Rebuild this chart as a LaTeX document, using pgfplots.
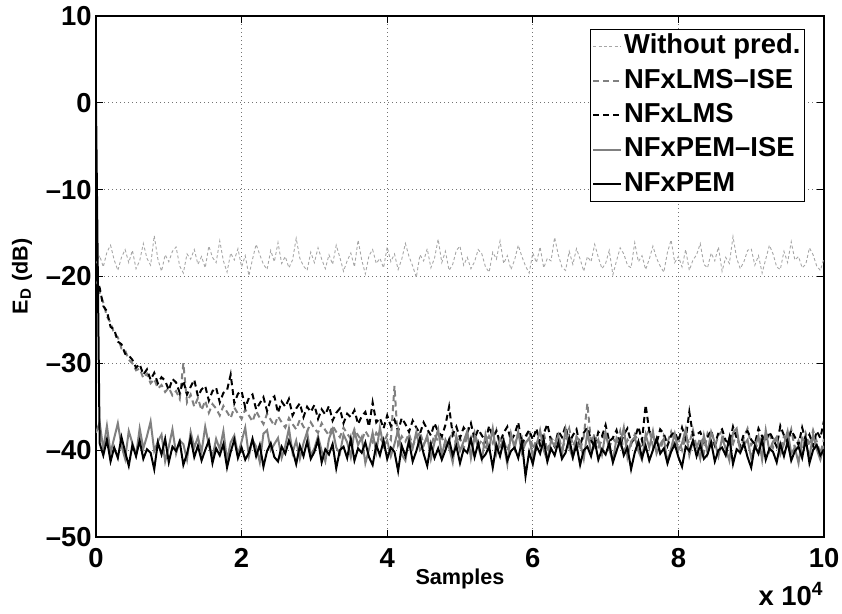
\documentclass[border=0pt]{standalone}
\usepackage{pgfplots}
\pgfplotsset{compat=1.18}
\usepackage{pgfplotstable}
\usepackage{fontspec}
\setmainfont{Liberation Sans}

\pgfplotstableread{
x A B C D E
0.00 -18.5 -20.2 -20.0 -38.0 0.0
0.05 -17.6 -21.8 -21.3 -36.8 -39.2
0.10 -18.9 -23.0 -23.4 -39.9 -40.6
0.15 -17.2 -24.6 -24.0 -37.2 -38.8
0.20 -16.4 -25.3 -25.8 -40.3 -41.3
0.25 -18.1 -26.6 -26.1 -38.6 -39.7
0.30 -19.3 -27.0 -27.5 -36.9 -40.9
0.35 -17.8 -28.3 -27.8 -39.5 -38.5
0.40 -16.9 -28.5 -28.9 -41.0 -40.2
0.45 -18.4 -29.6 -29.1 -37.8 -41.8
0.50 -17.0 -30.0 -29.6 -39.2 -39.4
0.55 -19.1 -30.8 -30.5 -40.6 -40.7
0.60 -18.2 -30.6 -30.1 -37.5 -38.9
0.65 -16.2 -31.7 -31.3 -39.8 -41.0
0.70 -17.9 -31.2 -30.7 -38.4 -39.9
0.75 -18.7 -32.3 -31.9 -36.7 -40.3
0.80 -15.3 -31.8 -31.1 -40.1 -42.2
0.85 -18.0 -32.9 -32.3 -39.0 -39.1
0.90 -19.4 -32.5 -31.6 -38.2 -40.5
0.95 -17.5 -33.3 -32.0 -41.3 -38.7
1.00 -18.3 -32.8 -33.1 -39.6 -41.4
1.05 -17.1 -33.7 -31.8 -37.6 -39.6
1.10 -16.6 -33.2 -32.2 -40.4 -40.1
1.15 -18.8 -34.1 -33.4 -38.9 -39.0
1.20 -19.6 -30.0 -32.0 -39.3 -41.7
1.25 -17.4 -34.5 -33.6 -41.1 -40.4
1.30 -18.0 -33.6 -32.7 -37.9 -38.6
1.35 -16.9 -35.0 -31.9 -39.7 -40.8
1.40 -18.6 -34.0 -33.8 -38.5 -39.5
1.45 -17.7 -35.4 -33.0 -40.2 -41.2
1.50 -19.0 -34.3 -32.6 -37.3 -40.0
1.55 -16.5 -35.7 -34.3 -39.4 -38.9
1.60 -17.8 -34.7 -33.2 -40.8 -41.5
1.65 -18.4 -35.2 -32.8 -38.7 -39.8
1.70 -15.9 -36.0 -34.5 -39.9 -40.6
1.75 -18.2 -34.9 -33.4 -37.8 -39.3
1.80 -19.5 -35.6 -33.1 -41.2 -42.0
1.85 -17.3 -36.3 -31.3 -39.1 -40.2
1.90 -18.1 -35.1 -34.6 -38.3 -38.8
1.95 -16.8 -35.8 -33.5 -40.5 -40.9
2.00 -18.9 -36.4 -33.2 -39.0 -39.7
2.05 -17.6 -35.3 -35.1 -37.4 -41.1
2.10 -19.9 -36.0 -34.0 -40.7 -40.3
2.15 -18.0 -36.7 -33.6 -38.8 -38.7
2.20 -16.3 -35.5 -35.3 -39.6 -40.7
2.25 -17.5 -36.3 -34.6 -41.4 -39.4
2.30 -18.6 -37.0 -33.9 -38.1 -41.9
2.35 -19.2 -35.8 -35.5 -37.7 -40.1
2.40 -17.0 -36.5 -34.2 -40.0 -39.2
2.45 -18.3 -37.2 -33.8 -39.3 -40.8
2.50 -16.1 -36.1 -35.7 -38.6 -41.3
2.55 -18.5 -36.8 -34.4 -40.9 -39.6
2.60 -17.7 -37.4 -35.0 -39.5 -40.4
2.65 -19.0 -36.3 -34.1 -37.5 -38.9
2.70 -18.1 -37.0 -36.0 -40.3 -40.0
2.75 -15.6 -37.6 -35.2 -38.9 -41.6
2.80 -17.9 -36.5 -34.6 -41.0 -39.5
2.85 -18.8 -37.3 -36.2 -39.2 -40.7
2.90 -19.3 -37.9 -35.0 -37.9 -39.0
2.95 -17.2 -36.8 -35.6 -40.6 -41.0
3.00 -18.4 -37.5 -34.8 -39.8 -40.2
3.05 -16.7 -38.0 -36.4 -38.4 -38.8
3.10 -18.0 -36.9 -35.3 -40.1 -41.4
3.15 -19.1 -37.7 -35.9 -41.3 -39.9
3.20 -17.5 -38.3 -34.9 -38.7 -40.5
3.25 -18.6 -37.2 -36.6 -37.6 -39.3
3.30 -16.4 -37.9 -35.7 -39.7 -42.1
3.35 -17.8 -38.5 -35.2 -40.4 -40.0
3.40 -19.4 -37.4 -36.9 -38.2 -39.6
3.45 -18.2 -38.1 -35.8 -39.1 -40.9
3.50 -17.3 -38.7 -36.2 -40.8 -38.7
3.55 -18.9 -37.6 -35.4 -37.8 -41.2
3.60 -15.8 -38.3 -37.0 -39.4 -39.8
3.65 -18.1 -38.9 -36.1 -38.5 -40.3
3.70 -19.7 -37.8 -35.6 -41.5 -39.1
3.75 -17.6 -38.5 -37.3 -39.9 -40.8
3.80 -16.9 -39.1 -34.5 -38.0 -41.7
3.85 -18.5 -38.0 -36.8 -40.2 -39.4
3.90 -17.9 -38.6 -36.3 -37.4 -40.6
3.95 -19.0 -39.2 -37.5 -39.6 -38.9
4.00 -16.6 -38.2 -36.0 -38.9 -41.0
4.05 -18.3 -38.8 -37.2 -40.7 -39.7
4.10 -17.4 -32.6 -36.5 -39.3 -40.2
4.15 -19.2 -39.4 -37.8 -37.7 -42.4
4.20 -18.0 -38.4 -36.3 -40.5 -39.5
4.25 -16.2 -39.0 -37.0 -41.2 -40.7
4.30 -17.7 -38.1 -37.9 -38.6 -39.0
4.35 -18.8 -39.5 -36.6 -39.8 -41.3
4.40 -20.1 -38.6 -37.4 -37.9 -40.1
4.45 -17.5 -37.9 -38.1 -40.0 -38.6
4.50 -18.2 -39.3 -36.8 -39.5 -40.4
4.55 -16.8 -38.7 -37.6 -38.3 -41.8
4.60 -19.0 -39.7 -38.3 -41.0 -39.3
4.65 -17.9 -38.2 -36.9 -39.1 -40.9
4.70 -15.7 -39.0 -37.9 -37.6 -39.8
4.75 -18.4 -38.5 -38.4 -40.6 -41.1
4.80 -17.1 -39.6 -37.1 -38.8 -40.0
4.85 -19.3 -38.9 -35.0 -39.7 -38.8
4.90 -18.6 -37.8 -38.2 -41.4 -40.6
4.95 -17.0 -39.4 -37.3 -38.4 -39.5
5.00 -16.5 -38.6 -38.6 -40.1 -41.5
5.05 -18.7 -39.8 -37.4 -39.0 -39.9
5.10 -17.8 -38.3 -38.0 -37.8 -40.3
5.15 -19.1 -39.1 -36.9 -40.9 -38.7
5.20 -18.3 -37.9 -38.7 -38.5 -40.8
5.25 -16.9 -39.5 -37.6 -39.6 -39.2
5.30 -17.4 -38.8 -38.3 -41.1 -41.0
5.35 -18.9 -40.0 -39.0 -38.2 -40.5
5.40 -19.5 -38.4 -37.2 -39.9 -39.6
5.45 -17.2 -39.2 -38.5 -37.5 -42.0
5.50 -18.0 -37.7 -37.8 -40.4 -39.4
5.55 -15.9 -39.6 -39.1 -38.7 -40.7
5.60 -18.5 -38.9 -38.0 -39.3 -38.9
5.65 -17.6 -40.1 -37.3 -41.6 -41.2
5.70 -19.2 -38.5 -38.9 -38.1 -40.1
5.75 -18.1 -39.3 -38.2 -39.8 -39.7
5.80 -16.4 -38.0 -36.8 -37.9 -40.9
5.85 -17.7 -39.7 -39.3 -40.3 -39.0
5.90 -18.8 -38.7 -38.4 -39.2 -43.0
5.95 -19.6 -37.6 -37.7 -38.6 -40.2
6.00 -17.3 -39.9 -38.8 -40.7 -41.6
6.05 -18.4 -38.8 -37.5 -39.4 -39.5
6.10 -16.6 -39.4 -39.4 -37.7 -40.4
6.15 -19.0 -37.9 -38.1 -40.0 -38.8
6.20 -17.9 -40.2 -37.0 -41.2 -41.3
6.25 -18.2 -38.6 -38.9 -38.9 -39.8
6.30 -15.5 -39.1 -39.6 -39.5 -40.6
6.35 -17.5 -38.3 -37.8 -38.3 -39.1
6.40 -18.9 -39.8 -38.5 -40.6 -41.0
6.45 -19.3 -38.9 -37.2 -37.6 -40.3
6.50 -17.1 -37.5 -39.2 -39.7 -38.6
6.55 -18.6 -39.5 -38.3 -40.9 -40.8
6.60 -16.8 -38.7 -37.6 -38.4 -39.4
6.65 -18.0 -40.0 -39.5 -39.1 -41.7
6.70 -19.4 -38.4 -38.0 -41.0 -40.0
6.75 -17.7 -34.6 -37.4 -37.9 -39.6
6.80 -18.3 -39.2 -38.8 -40.2 -40.7
6.85 -16.3 -38.1 -39.7 -39.6 -38.9
6.90 -17.8 -39.6 -37.9 -38.8 -41.1
6.95 -19.1 -38.9 -38.4 -40.5 -39.9
7.00 -18.5 -38.0 -37.1 -38.0 -40.5
7.05 -17.0 -39.7 -39.0 -39.9 -39.2
7.10 -19.8 -38.6 -38.6 -41.3 -41.4
7.15 -18.2 -39.3 -37.7 -38.6 -40.1
7.20 -16.7 -37.8 -39.4 -39.4 -38.8
7.25 -17.4 -40.1 -38.2 -37.4 -40.6
7.30 -18.7 -38.8 -37.5 -40.8 -39.7
7.35 -19.0 -39.4 -39.1 -39.0 -42.2
7.40 -16.1 -38.2 -38.7 -38.5 -40.3
7.45 -18.3 -39.0 -37.3 -40.1 -39.0
7.50 -17.6 -39.8 -38.9 -41.1 -40.9
7.55 -19.2 -38.5 -34.8 -38.2 -39.5
7.60 -18.0 -37.6 -37.8 -39.7 -41.2
7.65 -16.5 -39.6 -38.4 -37.8 -40.0
7.70 -17.9 -38.9 -39.2 -40.4 -38.7
7.75 -18.8 -40.2 -37.6 -39.3 -40.4
7.80 -19.5 -38.3 -38.1 -38.7 -39.8
7.85 -17.2 -39.1 -39.5 -41.4 -41.5
7.90 -15.8 -37.9 -38.3 -39.8 -40.2
7.95 -18.4 -39.5 -37.9 -38.1 -39.3
8.00 -17.7 -38.7 -39.0 -40.0 -40.8
8.05 -18.9 -40.0 -37.4 -39.2 -41.9
8.10 -16.9 -38.4 -38.7 -37.6 -39.6
8.15 -19.3 -39.2 -35.6 -40.6 -40.1
8.20 -18.1 -37.7 -38.3 -38.9 -38.9
8.25 -17.5 -39.7 -38.2 -39.5 -40.7
8.30 -16.2 -38.6 -37.9 -41.0 -39.4
8.35 -18.6 -40.3 -39.1 -38.3 -41.0
8.40 -19.0 -38.1 -38.5 -40.3 -40.5
8.45 -17.3 -39.0 -37.7 -37.9 -39.1
8.50 -18.2 -39.6 -39.4 -39.1 -41.3
8.55 -16.6 -38.3 -38.0 -40.7 -40.0
8.60 -19.4 -37.8 -37.6 -38.6 -39.7
8.65 -17.8 -39.9 -38.9 -39.8 -40.6
8.70 -18.5 -38.7 -39.2 -41.2 -38.6
8.75 -15.4 -39.3 -37.3 -38.0 -41.6
8.80 -17.9 -38.0 -38.6 -37.5 -39.9
8.85 -19.1 -40.1 -39.5 -40.2 -40.3
8.90 -18.3 -38.5 -38.1 -39.4 -39.2
8.95 -17.0 -37.5 -37.8 -38.8 -40.8
9.00 -16.8 -39.4 -38.8 -40.9 -42.0
9.05 -18.7 -38.8 -39.3 -39.6 -39.5
9.10 -17.6 -40.2 -37.5 -38.4 -40.4
9.15 -19.6 -38.2 -38.4 -41.1 -38.8
9.20 -18.0 -39.1 -39.0 -37.7 -41.1
9.25 -16.4 -37.9 -37.9 -40.1 -39.8
9.30 -17.4 -39.7 -38.7 -39.0 -40.2
9.35 -18.9 -38.6 -39.6 -38.5 -41.4
9.40 -19.2 -40.0 -37.2 -40.5 -39.3
9.45 -17.1 -38.4 -38.3 -39.3 -40.7
9.50 -18.4 -39.2 -39.1 -37.8 -39.0
9.55 -16.0 -37.6 -37.7 -40.4 -41.2
9.60 -18.1 -39.8 -38.5 -39.7 -40.1
9.65 -17.7 -38.9 -39.4 -41.5 -39.6
9.70 -19.0 -40.3 -37.4 -38.6 -40.9
9.75 -18.6 -38.1 -38.9 -39.2 -38.7
9.80 -16.7 -39.5 -38.2 -40.8 -41.5
9.85 -17.5 -37.7 -39.5 -38.2 -40.0
9.90 -18.8 -39.0 -37.8 -39.9 -39.4
9.95 -19.3 -40.4 -38.6 -41.1 -40.6
10.00 -17.9 -38.7 -36.6 -39.5 -39.9
}\datatable

\begin{document}
\begin{tikzpicture}
\path[use as bounding box] (-48pt,-38.5pt) rectangle (373pt,268.5pt);
\begin{axis}[
  name=ax,
  at={(0pt,0pt)}, anchor=south west,
  scale only axis, width=364pt, height=260.5pt,
  xmin=0, xmax=10, ymin=-50, ymax=10,
  xtick={0,2,4,6,8,10}, xticklabels={0,2,4,6,8,10},
  ytick={-50,-40,-30,-20,-10,0,10},
  yticklabels={--50,--40,--30,--20,--10,0,10},
  tick align=inside, major tick length=3.5pt,
  tick style={black, line width=0.5pt},
  grid=major,
  major grid style={black!55, line width=0.4pt, dash pattern=on 0.5pt off 1.5pt},
  axis line style={black, line width=0.8pt},
  tick label style={font=\fontsize{13.7}{15}\selectfont\bfseries, inner sep=2pt},
  xticklabel style={yshift=-3.5pt},
  xlabel={Samples},
  xlabel style={at={(axis description cs:0.5,-0.0921)}, anchor=base, font=\fontsize{10.8}{12}\selectfont\bfseries},
  ylabel={E\textsubscript{D} (dB)},
  ylabel style={at={(axis description cs:-0.1016,0.5)}, anchor=center, font=\fontsize{10.8}{12}\selectfont\bfseries},
  legend style={at={(1,1)}, anchor=north east, xshift=-9.5pt, yshift=-6.5pt, draw=black, line width=0.6pt, font=\fontsize{13.7}{15}\selectfont\bfseries, inner sep=1pt, row sep=2.2pt, nodes={inner sep=1pt, text height=10pt, text depth=3pt}},
  legend cell align=left,
  legend image code/.code={\draw[#1] (0pt,0pt) -- (14pt,0pt);},
]
\addplot[black!35, line width=0.45pt, dash pattern=on 1.5pt off 1.2pt, mark=none] table[x=x,y=A]{\datatable};
\addlegendentry{Without pred.}
\addplot[black!50, line width=1pt, dash pattern=on 3pt off 2pt, mark=none] table[x=x,y=B]{\datatable};
\addlegendentry{NFxLMS--ISE}
\addplot[black, line width=1pt, dash pattern=on 3pt off 2pt, mark=none] table[x=x,y=C]{\datatable};
\addlegendentry{NFxLMS}
\addplot[black!50, line width=1pt, mark=none] table[x=x,y=D]{\datatable};
\addlegendentry{NFxPEM--ISE}
\addplot[black, line width=1pt, mark=none] table[x=x,y=E]{\datatable};
\addlegendentry{NFxPEM}
\end{axis}
\node[anchor=base east, inner sep=0pt, font=\fontsize{13.7}{15}\selectfont\bfseries] at ([yshift=-34.5pt]ax.south east) {x 10\textsuperscript{4}};
\end{tikzpicture}
\end{document}
